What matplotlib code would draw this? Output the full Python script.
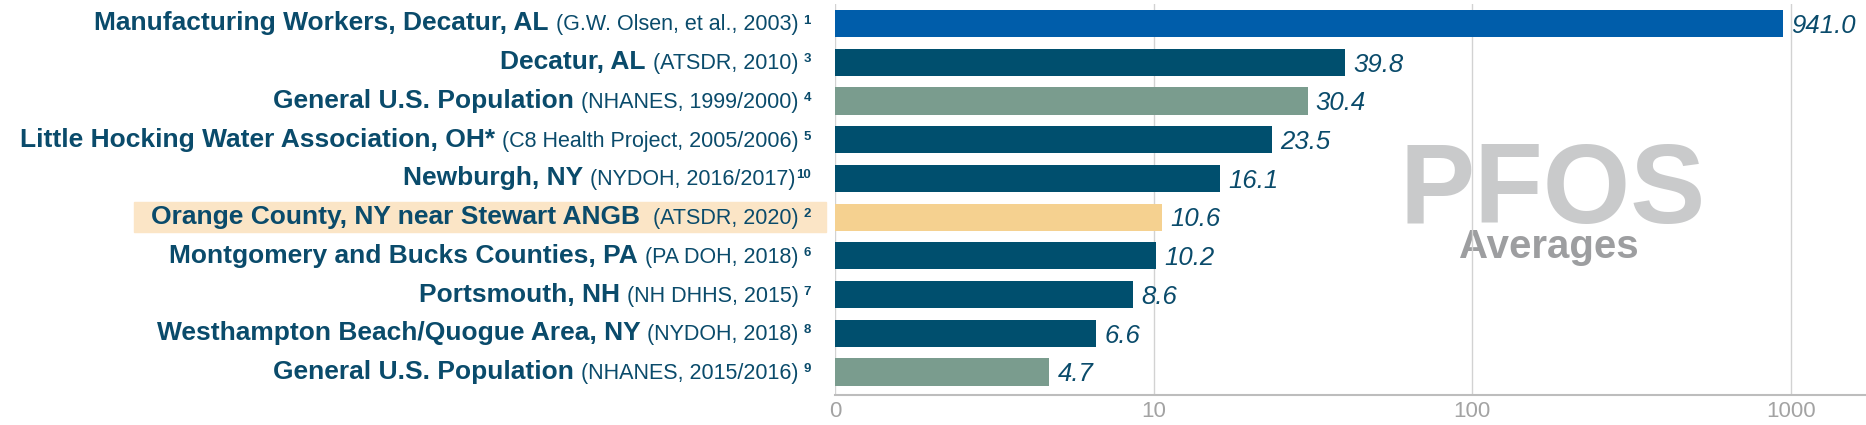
import matplotlib
matplotlib.use('Agg')
import matplotlib.pyplot as plt
from matplotlib.patches import Rectangle
from matplotlib.transforms import blended_transform_factory
from matplotlib.ticker import FixedLocator, FixedFormatter, NullLocator

plt.rcParams['font.family'] = ['Liberation Sans', 'DejaVu Sans']

names = ["Manufacturing Workers, Decatur, AL", "Decatur, AL", "General U.S. Population",
         "Little Hocking Water Association, OH*", "Newburgh, NY",
         "Orange County, NY near Stewart ANGB", "Montgomery and Bucks Counties, PA",
         "Portsmouth, NH", "Westhampton Beach/Quogue Area, NY", "General U.S. Population"]
sources = ["(G.W. Olsen, et al., 2003)", "(ATSDR, 2010)", "(NHANES, 1999/2000)",
           "(C8 Health Project, 2005/2006)", "(NYDOH, 2016/2017)", " (ATSDR, 2020)",
           "(PA DOH, 2018)", "(NH DHHS, 2015)", "(NYDOH, 2018)", "(NHANES, 2015/2016)"]
refs = ["1", "3", "4", "5", "10", "2", "6", "7", "8", "9"]
values = [941.0, 39.8, 30.4, 23.5, 16.1, 10.6, 10.2, 8.6, 6.6, 4.7]
groups = ["workers", "community", "national", "community", "community",
          "site", "community", "community", "community", "national"]

colors = {"workers": "#005DAA", "community": "#004F6E",
          "national": "#7A9C8E", "site": "#F5D190"}
text_col = "#0A4B6B"

W, H = 1866, 425
fig = plt.figure(figsize=(W / 100, H / 100), dpi=100)
ax_left, ax_bottom_px, ax_top_px = 835, 395, 4.15
ax = fig.add_axes([ax_left / W, 1 - ax_bottom_px / H, 1 - ax_left / W,
                   (ax_bottom_px - ax_top_px) / H])

ypos = list(range(len(values)))
ax.barh(ypos, [v - 1 for v in values], left=1, height=0.70,
        color=[colors[g] for g in groups], zorder=2)
ax.set_xscale('log')
ax.set_xlim(1, 1720)
ax.set_ylim(9.594, -0.5)

ax.xaxis.set_major_locator(FixedLocator([1, 10, 100, 1000]))
ax.xaxis.set_major_formatter(FixedFormatter(["0", "10", "100", "1000"]))
ax.xaxis.set_minor_locator(NullLocator())
ax.tick_params(axis='x', length=0, pad=4, labelsize=16, labelcolor="#A3A3A3")
ax.set_yticks([])
ax.grid(axis='x', color="#D2D2D2", linewidth=1.0)
ax.set_axisbelow(True)
for s in ['top', 'right', 'left']:
    ax.spines[s].set_visible(False)
ax.spines['bottom'].set_color("#BDBDBD")
ax.spines['bottom'].set_linewidth(1.5)

# value labels
for y, v in zip(ypos, values):
    ax.annotate(f"{v:.1f}", (v, y + 0.24), xytext=(6, 0), textcoords='offset points',
                ha='left', va='baseline', fontsize=18.5, style='italic',
                color=text_col, zorder=3)

# watermark
ax.text(1553 / W, 1 - 223 / H, "PFOS", transform=fig.transFigure, ha='center',
        va='baseline', fontsize=81, fontweight='bold', color="#C9CACB", zorder=0.2)
ax.text(1549 / W, 1 - 258 / H, "Averages", transform=fig.transFigure, ha='center',
        va='baseline', fontsize=29, fontweight='bold', color="#9D9EA0", zorder=0.2)

# highlight behind the site row label
fig.add_artist(Rectangle((134 / W, 1 - 232 / H), (826 - 134) / W, 30 / H,
                         transform=fig.transFigure, color="#FBE5C6", zorder=0))

# category labels, built right to left
renderer = fig.canvas.get_renderer()
tr = blended_transform_factory(fig.dpi_scale_trans, ax.transData)
right_px = 811
for y, name, src, ref in zip(ypos, names, sources, refs):
    t = ax.text(right_px / 100, y, ref, transform=tr, ha='right', va='baseline',
                fontsize=9.5, fontweight='bold', color=text_col, clip_on=False)
    w = t.get_window_extent(renderer).width
    x = right_px - w - (1 if ref == "10" else 5)
    t = ax.text(x / 100, y + 0.18, src, transform=tr, ha='right', va='baseline',
                fontsize=15.5, color=text_col, clip_on=False)
    w = t.get_window_extent(renderer).width
    x = x - w - 7
    ax.text(x / 100, y + 0.18, name, transform=tr, ha='right', va='baseline',
            fontsize=19, fontweight='bold', color=text_col, clip_on=False)

fig.savefig("out.png", dpi=100)
